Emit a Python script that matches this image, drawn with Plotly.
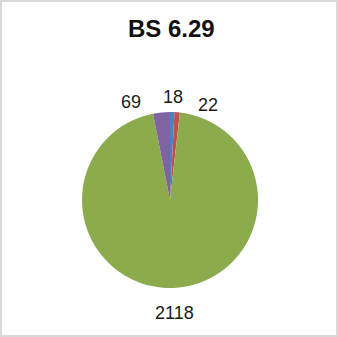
import plotly.graph_objects as go

# Slice values in drawing order (clockwise from 12 o'clock)
values = [18, 22, 2118, 69]
slice_colors = ["#4F81BD", "#C0504D", "#8CAB4C", "#8064A2"]
title_text = "BS 6.29"

# Label anchor positions in paper coordinates, one per slice
label_x = [0.512, 0.615, 0.515, 0.388]
label_y = [0.711, 0.688, 0.071, 0.697]

W, H = 338, 337

fig = go.Figure(
    go.Pie(
        values=values,
        marker=dict(colors=slice_colors, line=dict(width=0)),
        sort=False,
        direction="clockwise",
        rotation=0,
        textinfo="none",
        hoverinfo="value",
        domain=dict(x=[82 / W, 258 / W], y=[1 - 288 / H, 1 - 112 / H]),
        showlegend=False,
    )
)

annotations = [
    dict(
        x=x, y=y, xref="paper", yref="paper",
        text=str(v), showarrow=False,
        font=dict(family="Liberation Sans, Arial, sans-serif", size=18, color="#1a1a1a"),
        xanchor="center", yanchor="middle",
    )
    for v, x, y in zip(values, label_x, label_y)
]
annotations.append(
    dict(
        x=171 / W, y=1 - 29 / H, xref="paper", yref="paper",
        text="<b>" + title_text + "</b>", showarrow=False,
        font=dict(family="Liberation Sans, Arial, sans-serif", size=24, color="#111111"),
        xanchor="center", yanchor="middle",
    )
)

fig.update_layout(
    width=W, height=H,
    margin=dict(l=0, r=0, t=0, b=0),
    paper_bgcolor="white",
    plot_bgcolor="white",
    annotations=annotations,
    shapes=[
        dict(
            type="rect", xref="paper", yref="paper",
            x0=0, y0=0, x1=1, y1=1,
            line=dict(color="#d9d9d6", width=4),
        )
    ],
)

fig.write_html("out.html")
